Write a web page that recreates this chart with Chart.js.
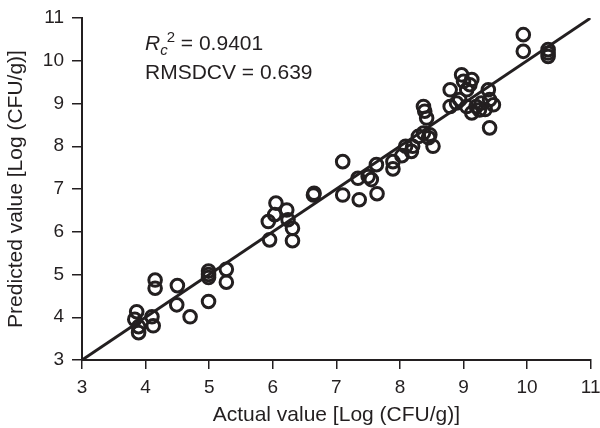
<!DOCTYPE html>
<html>
<head>
<meta charset="utf-8">
<script src="https://cdn.jsdelivr.net/npm/chart.js@4"></script>
<style>
  html, body { margin: 0; padding: 0; background: #fff; }
  #wrap { width: 600px; height: 428px; }
</style>
</head>
<body>
<div id="wrap"><canvas id="chart"></canvas></div>
<script>
const actual = [
  3.86, 3.83, 3.89, 3.89, 4.10, 4.12, 4.15, 4.15, 4.50, 4.49, 4.70,
  4.99, 4.99, 4.99, 4.99, 5.27, 5.27,
  5.95, 6.31, 5.93, 6.05, 6.22, 6.03, 6.24, 6.31, 6.64, 6.65,
  7.10, 7.10, 7.36, 7.34, 7.50, 7.55, 7.63, 7.64, 7.89, 7.89,
  8.03, 8.18, 8.20, 8.29, 8.09,
  8.37, 8.39, 8.42, 8.37, 8.47, 8.52, 8.45,
  8.79, 8.79, 8.97, 9.00, 9.05, 9.10, 9.13, 8.89, 8.94, 9.05, 9.13,
  9.20, 9.28, 9.39, 9.41, 9.34, 9.47, 9.41, 9.25,
  9.94, 9.94, 10.33, 10.33, 10.33
];
const predicted = [
  4.13, 3.95, 3.78, 3.64, 4.01, 3.80, 4.87, 4.68, 4.74, 4.29, 4.01,
  5.08, 5.00, 4.93, 4.37, 5.12, 4.82,
  5.81, 5.79, 6.24, 6.67, 6.51, 6.40, 6.28, 6.08, 6.86, 6.90,
  7.64, 6.86, 6.75, 7.25, 7.29, 7.22, 7.57, 6.89, 7.64, 7.47,
  7.78, 7.88, 8.00, 8.23, 8.00,
  8.93, 8.82, 8.66, 8.31, 8.27, 8.00, 8.20,
  9.32, 8.93, 9.67, 9.52, 9.32, 9.44, 9.56, 9.01, 9.09, 8.93, 8.78,
  8.93, 9.01, 9.32, 9.09, 8.86, 8.97, 8.43, 8.85,
  10.61, 10.22, 10.26, 10.10, 10.18
];
// 1:1 reference line
const lineX = [3, 11];
const lineY = [3, 11];
const axisMin = 3;
const axisMax = 11;
const annotationLines = ["0.9401", "0.639"];

const ink = "#231f20";
const font = "'Liberation Sans', Arial, Helvetica, sans-serif";

// draws the R_c^2 and RMSDCV text in the top-left of the plot
const statsText = {
  id: "statsText",
  afterDraw(chart) {
    const ctx = chart.ctx;
    const a = chart.chartArea;
    const x0 = a.left + 63;
    ctx.save();
    ctx.fillStyle = ink;
    ctx.textBaseline = "alphabetic";
    let x = x0;
    const y1 = a.top + 32;
    ctx.font = "italic 21px " + font;
    ctx.fillText("R", x, y1);
    x += ctx.measureText("R").width;
    ctx.font = "italic 15px " + font;
    ctx.fillText("c", x, y1 + 5);
    const cw = ctx.measureText("c").width;
    ctx.font = "15px " + font;
    ctx.fillText("2", x + cw - 1, y1 - 8);
    x += cw - 1 + ctx.measureText("2").width;
    ctx.font = "21px " + font;
    ctx.fillText(" = " + annotationLines[0], x, y1);
    ctx.fillText("RMSDCV = " + annotationLines[1], x0, y1 + 29);
    ctx.restore();
  }
};

function fixWidth(w) {
  return (scale) => {
    scale.width = w;
    scale.paddingLeft = scale.paddingRight = scale.paddingTop = scale.paddingBottom = 0;
  };
}
function fixHeight(h) {
  return (scale) => {
    scale.height = h;
    scale.paddingLeft = scale.paddingRight = scale.paddingTop = scale.paddingBottom = 0;
  };
}

new Chart(document.getElementById("chart"), {
  type: "scatter",
  data: {
    datasets: [
      {
        label: "fit",
        type: "line",
        data: lineX.map((v, i) => ({ x: v, y: lineY[i] })),
        borderColor: ink,
        borderWidth: 3,
        pointRadius: 0,
        fill: false,
      },
      {
        label: "samples",
        data: actual.map((v, i) => ({ x: v, y: predicted[i] })),
        pointStyle: "circle",
        pointRadius: 6.3,
        borderWidth: 3,
        borderColor: ink,
        backgroundColor: "rgba(0,0,0,0)",
      },
    ],
  },
  options: {
    responsive: true,
    maintainAspectRatio: false,
    animation: false,
    layout: { padding: { top: 18, right: 9, left: 0, bottom: 0 } },
    plugins: {
      legend: { display: false },
      tooltip: { enabled: false },
    },
    scales: {
      x: {
        type: "linear",
        min: axisMin,
        max: axisMax,
        afterFit: fixHeight(68),
        ticks: { stepSize: 1, color: ink, padding: 7, font: { family: font, size: 19 } },
        grid: { drawOnChartArea: false, drawTicks: true, tickLength: 9, color: ink, lineWidth: 1.5 },
        border: { color: ink, width: 2 },
        title: {
          display: true,
          text: "Actual value [Log (CFU/g)]",
          color: ink,
          font: { family: font, size: 21 },
          padding: { top: 0, bottom: 0 },
        },
      },
      y: {
        type: "linear",
        min: axisMin,
        max: axisMax,
        afterFit: fixWidth(82),
        ticks: { stepSize: 1, color: ink, padding: 8, font: { family: font, size: 19 } },
        grid: { drawOnChartArea: false, drawTicks: true, tickLength: 10, color: ink, lineWidth: 1.5 },
        border: { color: ink, width: 2 },
        title: {
          display: true,
          text: "Predicted value [Log (CFU/g)]",
          color: ink,
          font: { family: font, size: 21 },
          padding: { top: 4, bottom: 0 },
        },
      },
    },
  },
  plugins: [statsText],
});
</script>
</body>
</html>
